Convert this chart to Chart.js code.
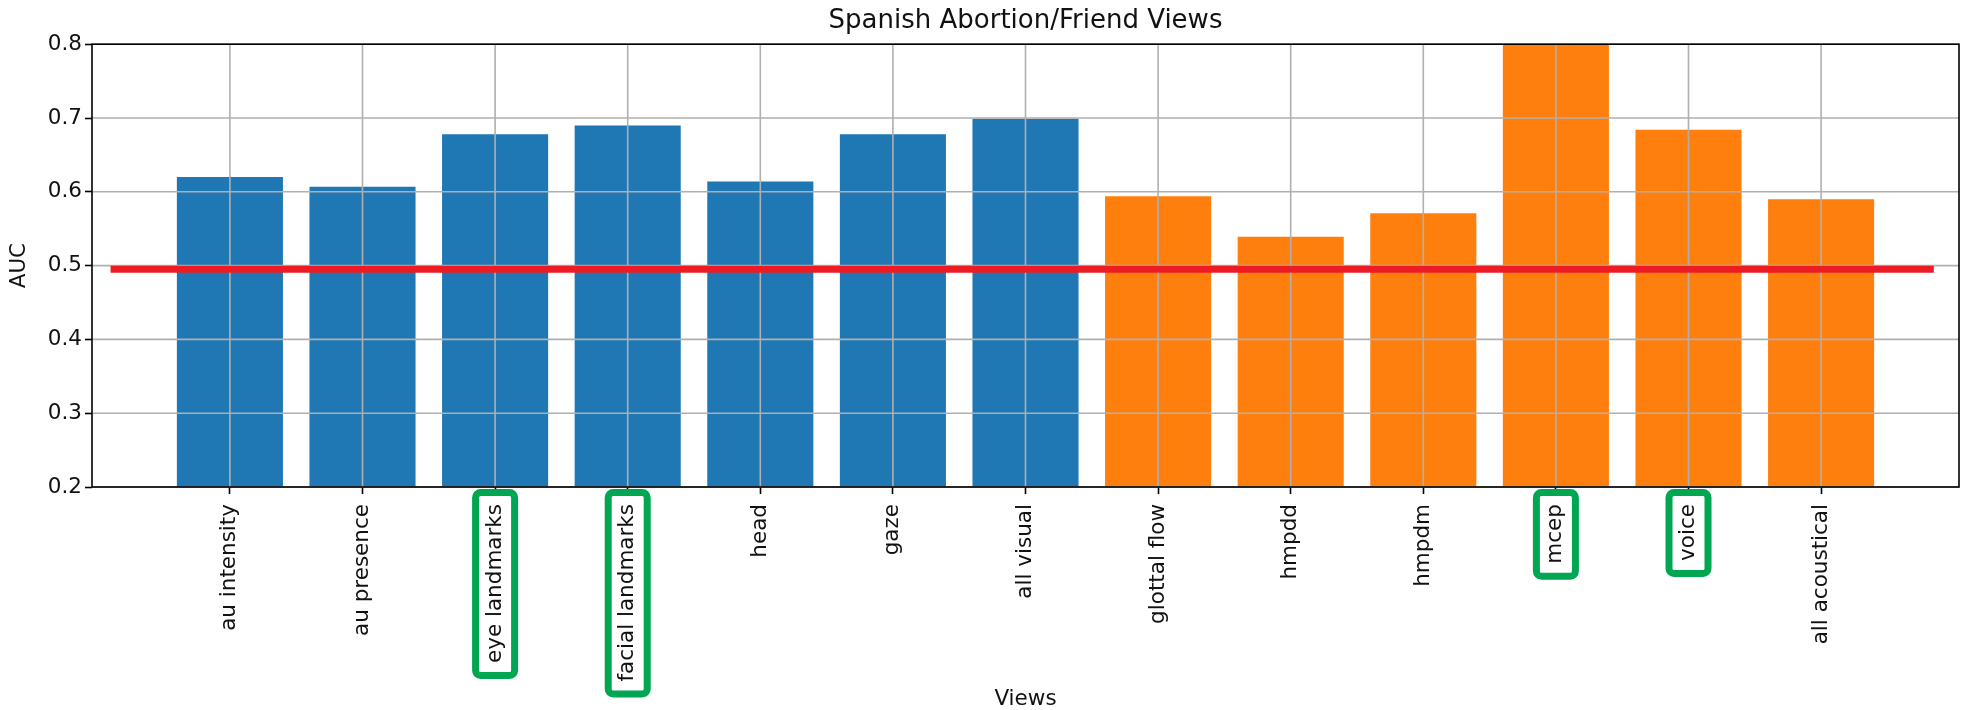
<!DOCTYPE html>
<html>
<head>
<meta charset="utf-8">
<script src="https://cdn.jsdelivr.net/npm/chart.js@4.4.1/dist/chart.umd.min.js"></script>
<style>
  html, body { margin: 0; padding: 0; background: #fff; }
  #wrap { width: 1966px; height: 710px; }
</style>
</head>
<body>
<div id="wrap"><canvas id="auc" width="1966" height="710"></canvas></div>
<script>
// data
const categories = ['au intensity', 'au presence', 'eye landmarks', 'facial landmarks', 'head', 'gaze',
    'all visual', 'glottal flow', 'hmpdd', 'hmpdm', 'mcep', 'voice', 'all acoustical'];
const modality = ['visual', 'visual', 'visual', 'visual', 'visual', 'visual', 'visual',
    'acoustic', 'acoustic', 'acoustic', 'acoustic', 'acoustic', 'acoustic'];
const auc = [0.620, 0.607, 0.678, 0.690, 0.614, 0.678, 0.699, 0.594, 0.539, 0.571, 0.80, 0.684, 0.590];
const chanceX = [-0.90, 12.85];
const chanceY = [0.495, 0.495];
const highlighted = ['eye landmarks', 'facial landmarks', 'mcep', 'voice'];
const yTicks = [0.2, 0.3, 0.4, 0.5, 0.6, 0.7, 0.8];

const colors = { visual: '#1f77b4', acoustic: '#ff7f0e' };
const FONT = 'DejaVu Sans';
const TICK = 21.5;
const TICK_PAD = 10;

Chart.defaults.font.family = FONT;
Chart.defaults.color = '#111';

// grid over the bars, frame, and the green boxes round some labels
const extras = {
    id: 'extras',
    afterDatasetDraw(chart, args) {
        if (args.index !== 0) return;
        const {ctx, chartArea: a, scales} = chart;
        ctx.save();
        ctx.strokeStyle = '#b0b0b0';
        ctx.lineWidth = 1.6;
        ctx.beginPath();
        scales.x.ticks.forEach(t => {
            const px = scales.x.getPixelForValue(t.value);
            ctx.moveTo(px, a.top); ctx.lineTo(px, a.bottom);
        });
        scales.y.ticks.forEach(t => {
            const py = scales.y.getPixelForValue(t.value);
            ctx.moveTo(a.left, py); ctx.lineTo(a.right, py);
        });
        ctx.stroke();
        ctx.restore();
    },
    afterDatasetsDraw(chart) {
        const {ctx, chartArea: a} = chart;
        ctx.save();
        ctx.strokeStyle = '#000';
        ctx.lineWidth = 1.6;
        ctx.strokeRect(a.left, a.top, a.right - a.left, a.bottom - a.top);
        ctx.restore();
    },
    afterDraw(chart) {
        const {ctx, chartArea: a} = chart;
        const x = chart.scales.x;
        ctx.save();
        ctx.font = TICK + 'px "' + FONT + '"';
        ctx.strokeStyle = '#00a651';
        ctx.lineWidth = 7;
        ctx.lineJoin = 'round';
        highlighted.forEach(name => {
            const i = categories.indexOf(name);
            const cx = x.getPixelForValue(i);
            const textTop = a.bottom + 7 + TICK_PAD;
            const w = ctx.measureText(name).width;
            const top = a.bottom + 5.5;
            const bottom = textTop + w + 12.5;
            ctx.beginPath();
            ctx.roundRect(cx - 19.5, top, 39, bottom - top, 5);
            ctx.stroke();
        });
        ctx.restore();
    }
};

new Chart(document.getElementById('auc'), {
    data: {
        datasets: [{
            type: 'bar',
            order: 2,
            data: auc.map((v, i) => ({x: i, y: v})),
            backgroundColor: modality.map(m => colors[m]),
            borderWidth: 0,
            barPercentage: 0.8,
            categoryPercentage: 1.0
        }, {
            type: 'line',
            order: 1,
            data: chanceX.map((v, i) => ({x: v, y: chanceY[i]})),
            borderColor: '#ed1c24',
            borderWidth: 7,
            borderCapStyle: 'butt',
            pointRadius: 0,
            fill: false
        }]
    },
    options: {
        responsive: false,
        animation: false,
        layout: { padding: { left: 0, right: 7, top: 0, bottom: 0 } },
        plugins: {
            legend: { display: false },
            tooltip: { enabled: false },
            title: {
                display: true,
                fullSize: false,
                text: 'Spanish Abortion/Friend Views',
                color: '#111',
                font: { family: FONT, size: 26, weight: 'normal', lineHeight: 1.2 },
                padding: { top: 6, bottom: 7 }
            }
        },
        scales: {
            x: {
                type: 'linear',
                offset: false,
                min: -1.04,
                max: 13.04,
                afterBuildTicks: s => {
                    s.ticks = categories.map((c, i) => ({value: i}));
                },
                afterFit: s => { s.height = 223; },
                ticks: {
                    autoSkip: false,
                    maxRotation: 90,
                    minRotation: 90,
                    padding: TICK_PAD,
                    color: '#111',
                    font: { size: TICK },
                    callback: v => categories[v]
                },
                grid: {
                    offset: false,
                    drawOnChartArea: false,
                    drawTicks: true,
                    tickLength: 7,
                    tickColor: '#000',
                    tickWidth: 1.6
                },
                border: { display: false },
                title: {
                    display: true,
                    text: 'Views',
                    color: '#111',
                    font: { size: TICK, lineHeight: 1.0 },
                    padding: { top: 0, bottom: 0 }
                }
            },
            y: {
                type: 'linear',
                min: 0.2,
                max: 0.8,
                afterBuildTicks: s => {
                    s.ticks = yTicks.map(v => ({value: v}));
                },
                afterFit: s => { s.width = 92; },
                ticks: {
                    padding: 3,
                    color: '#111',
                    font: { size: TICK },
                    callback: v => v.toFixed(1)
                },
                grid: {
                    drawOnChartArea: false,
                    drawTicks: true,
                    tickLength: 7,
                    tickColor: '#000',
                    tickWidth: 1.6
                },
                border: { display: false },
                title: {
                    display: true,
                    text: 'AUC',
                    color: '#111',
                    font: { size: TICK, lineHeight: 1.2 },
                    padding: { top: 7, bottom: 0 }
                }
            }
        }
    },
    plugins: [extras]
});
</script>
</body>
</html>
